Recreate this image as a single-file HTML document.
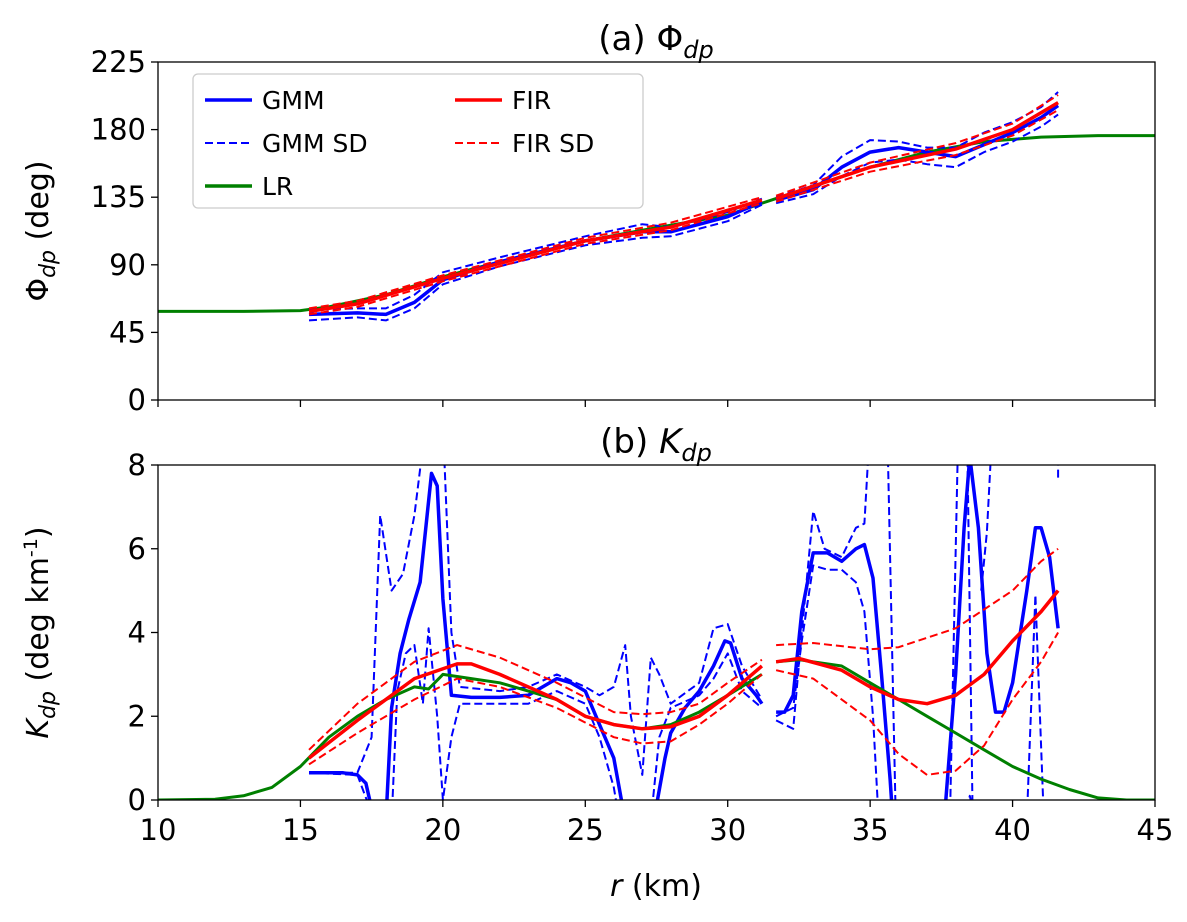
<!DOCTYPE html>
<html><head><meta charset="utf-8">
<style>
body{margin:0;background:#fff;}
svg text{font-family:"DejaVu Sans","Liberation Sans",sans-serif;fill:#000;}
</style></head>
<body>
<svg id="chart" width="1187" height="917" xmlns="http://www.w3.org/2000/svg">
<defs>
<clipPath id="clipA"><rect x="158" y="62" width="997" height="338"/></clipPath>
<clipPath id="clipB"><rect x="158" y="465" width="997" height="335"/></clipPath>
</defs>
<g id="gA"></g>
<g id="gB"></g>
</svg>
<script>
const xTicks=[10,15,20,25,30,35,40,45];
const phiTicks=[0,45,90,135,180,225];
const kdpTicks=[0,2,4,6,8];
const phiLR=[[10,59],[13,59],[15,59.5],[16,62],[18,70],[20,82],[22,92],[25,106],[27,113],[30,123],[31.2,131],[32,136],[35,155],[37,165],[39,172],[41,175],[43,176],[45,176]];
const phiGMM=[[15.3,57],[17,58],[18,57],[19,65],[20,80],[22,92],[25,106],[27,112],[28,112],[30,122],[31.2,132],null,[31.7,133],[33,140],[34,155],[35,165],[36,168],[37,165],[38,162],[39,170],[40,178],[41,188],[41.6,196]];
const phiGMMup=[[15.3,60],[17,61],[18,61],[19,70],[20,85],[22,95],[25,109],[27,117],[28,115],[30,125],[31.2,134],null,[31.7,135],[33,143],[34,162],[35,173],[36,172],[37,168],[38,168],[39,178],[40,185],[41,195],[41.6,205]];
const phiGMMlo=[[15.3,53],[17,55],[18,53],[19,61],[20,77],[22,89],[25,103],[27,108],[28,109],[30,119],[31.2,130],null,[31.7,131],[33,137],[34,149],[35,158],[36,160],[37,157],[38,155],[39,165],[40,172],[41,182],[41.6,190]];
const phiFIR=[[15.3,59],[17,64],[20,81],[25,106],[28,115],[31.2,133],null,[31.7,134],[35,155],[38,167],[40,180],[41.6,198]];
const phiFIRup=[[15.3,61],[17,66],[20,83],[25,108],[28,118],[31.2,135],null,[31.7,136],[35,158],[38,171],[40,184],[41.6,203]];
const phiFIRlo=[[15.3,57],[17,62],[20,79],[25,104],[28,113],[31.2,131],null,[31.7,132],[35,152],[38,163],[40,176],[41.6,193]];
const kLR=[[10,0],[12,0.02],[13,0.1],[14,0.3],[15,0.8],[16,1.5],[17,2.0],[18,2.4],[19,2.7],[19.5,2.65],[20,3.0],[21,2.9],[22,2.8],[23,2.6],[24,2.4],[25,2.0],[26,1.8],[27,1.7],[28,1.8],[29,2.1],[30,2.5],[31.2,3.0],null,[31.7,3.3],[32.5,3.35],[33,3.3],[34,3.2],[35,2.8],[36,2.4],[37,2.0],[38,1.6],[39,1.2],[40,0.8],[41,0.5],[42,0.25],[43,0.05],[44,0],[45,0]];
const kFIR=[[15.3,1.0],[17,1.9],[19,2.9],[20.5,3.25],[21,3.25],[22,3.0],[24,2.4],[25,2.0],[26,1.8],[27,1.7],[28,1.75],[29,2.0],[30,2.5],[31.2,3.2],null,[31.7,3.3],[32.5,3.38],[34,3.1],[35,2.7],[36,2.4],[37,2.3],[38,2.5],[39,3.0],[40,3.8],[41,4.5],[41.6,5.0]];
const kFIRup=[[15.3,1.2],[17,2.3],[19,3.3],[20.5,3.7],[22,3.4],[24,2.8],[26,2.1],[27,2.05],[28,2.1],[29,2.3],[30,2.8],[31.2,3.35],null,[31.7,3.7],[33,3.75],[35,3.6],[36,3.65],[38,4.1],[40,5.0],[41,5.7],[41.6,6.0]];
const kFIRlo=[[15.3,0.85],[17,1.6],[19,2.4],[20.5,2.9],[22,2.7],[24,2.2],[26,1.5],[27,1.35],[28,1.4],[29,1.8],[30,2.3],[31.2,3.0],null,[31.7,3.1],[33,2.9],[35,1.9],[36,1.1],[37,0.6],[38,0.7],[39,1.3],[40,2.4],[41,3.3],[41.6,4.0]];
const kGMM=[[15.3,0.65],[16.5,0.65],[17,0.6],[17.3,0.4],[17.6,-0.5],null,[18,-0.5],[18.2,2.2],[18.5,3.5],[18.8,4.3],[19.2,5.2],[19.6,7.8],[19.8,7.5],[20.0,4.8],[20.3,2.5],[21,2.45],[22,2.45],[23,2.5],[24,2.9],[24.5,2.8],[25,2.6],[25.5,1.8],[26,1.0],[26.4,-0.5],null,[27.4,-0.5],[27.8,1.0],[28,1.6],[28.5,2.2],[29,2.6],[29.5,3.2],[29.9,3.8],[30.1,3.75],[30.5,2.9],[31,2.5],[31.2,2.3],null,[31.7,2.1],[32,2.1],[32.3,2.5],[32.6,4.5],[33,5.9],[33.5,5.9],[34,5.7],[34.5,6.0],[34.8,6.1],[35.1,5.3],[35.4,3],[35.7,0.5],[35.8,-0.5],null,[37.6,-0.5],[38,3],[38.3,6.5],[38.5,8.2],[38.8,6.5],[39.1,3.5],[39.4,2.1],[39.7,2.1],[40,2.8],[40.5,5],[40.8,6.5],[41,6.5],[41.3,5.8],[41.6,4.1]];
const kGMMup=[[15.3,0.65],[17.0,0.65],[17.5,1.5],[17.8,6.8],[18.2,5.0],[18.6,5.4],[19.0,6.8],[19.4,9],[20.0,9],[20.3,4],[20.6,2.7],[22,2.6],[23,2.7],[24,3.0],[25,2.7],[25.5,2.5],[26,2.7],[26.4,3.7],[26.6,2.0],[27,0.6],[27.3,3.4],[27.6,3.0],[28,2.3],[29,2.8],[29.5,4.1],[30,4.2],[30.5,3.2],[31.2,2.4],null,[31.7,1.9],[32.3,1.7],[32.6,4],[33,6.9],[33.4,6.0],[34,5.8],[34.5,6.5],[34.8,6.6],[35.0,9],null,[35.6,9],[35.9,-0.5],null,[37.8,-0.5],[38.1,9],null,[38.4,9],[38.6,-0.5],null,[38.9,5],[39.1,6.4],[39.3,9],null,[40.5,-0.5],[40.8,4.9],[41.1,-0.5],null,[41.6,7.7],[41.6,8.2]];
const kGMMlo=[[15.3,0.65],[17.0,0.6],[17.6,-0.5],null,[18.2,-0.5],[18.4,2.6],[18.7,3.5],[19.0,3.7],[19.3,2.3],[19.5,4.1],[19.8,2.0],[20.0,0],[20.3,1.5],[20.6,2.3],[22,2.3],[23,2.3],[24,2.6],[25,2.3],[25.5,1.5],[26,0.3],[26.2,-0.5],null,[27.3,-0.5],[27.6,1.5],[28,2.2],[29,2.5],[29.5,2.9],[30,3.5],[30.5,2.6],[31.2,2.2],null,[31.7,2.0],[32.3,2.2],[32.6,3.8],[33,5.6],[33.5,5.5],[34,5.5],[34.5,5.2],[34.8,4.5],[35.1,2],[35.3,-0.5],null,[38.3,-0.5],[38.5,0.1],[38.7,-0.5]];

const NS="http://www.w3.org/2000/svg";
const X0=158,X1=1155;
function sx(v){return X0+(v-10)/35*(X1-X0);}
function mk(tag,attrs,parent){const e=document.createElementNS(NS,tag);for(const k in attrs)e.setAttribute(k,attrs[k]);parent.appendChild(e);return e;}
function panel(g,top,bot,ymax,yticks,clip,series,title,ylab){
  const sy=v=>bot-(v/ymax)*(bot-top);
  const sg=mk('g',{'clip-path':'url(#'+clip+')'},g);
  series.forEach(s=>{
    let d='',pen=false;
    s.data.forEach(p=>{if(!p){pen=false;return;}d+=(pen?'L':'M')+sx(p[0]).toFixed(1)+' '+sy(p[1]).toFixed(1);pen=true;});
    const path=mk('path',{d:d,fill:'none',stroke:s.c,'stroke-width':s.w,'stroke-dasharray':s.dash||'none','stroke-linejoin':'round'},sg);
    
    
  });
  mk('rect',{x:X0,y:top,width:X1-X0,height:bot-top,fill:'none',stroke:'#000','stroke-width':1.3},g);
  yticks.forEach(t=>{
    mk('line',{x1:X0-7,x2:X0,y1:sy(t),y2:sy(t),stroke:'#000','stroke-width':1.3},g);
    const tx=mk('text',{x:X0-12,y:sy(t)+10,'text-anchor':'end','font-size':29},g);tx.textContent=t;
    
    
  });
  xticks(g,bot);
  const tt=mk('text',{x:656,y:top-12,'text-anchor':'middle','font-size':34},g);tt.innerHTML=title;
  
  
  const yl=mk('text',{transform:'translate(48,'+((top+bot)/2)+') rotate(-90)','text-anchor':'middle','font-size':30},g);yl.innerHTML=ylab;
  
  
}
function xticks(g,bot){xTicks.forEach(t=>mk('line',{x1:sx(t),x2:sx(t),y1:bot,y2:bot+7,stroke:'#000','stroke-width':1.3},g));}
const gA=document.getElementById('gA'),gB=document.getElementById('gB');
panel(gA,62,400,225,phiTicks,'clipA',[
 {data:phiLR,c:'#008000',w:3,name:'lr-line'},
 {data:phiGMMup,c:'#0000ff',w:2,dash:'8 4',name:'gmm-sd-upper'},
 {data:phiGMMlo,c:'#0000ff',w:2,dash:'8 4',name:'gmm-sd-lower'},
 {data:phiGMM,c:'#0000ff',w:3.5,name:'gmm-line'},
 {data:phiFIRup,c:'#ff0000',w:2,dash:'8 4',name:'fir-sd-upper'},
 {data:phiFIRlo,c:'#ff0000',w:2,dash:'8 4',name:'fir-sd-lower'},
 {data:phiFIR,c:'#ff0000',w:3.5,name:'fir-line'}],
 '(a) Φ<tspan font-style="italic" font-size="24" dy="8">dp</tspan>',
 'Φ<tspan font-style="italic" font-size="22" dy="7">dp</tspan><tspan dy="-7"> (deg)</tspan>');
panel(gB,465,800,8,kdpTicks,'clipB',[
 {data:kGMMup,c:'#0000ff',w:2,dash:'8 4',name:'gmm-sd-upper'},
 {data:kGMMlo,c:'#0000ff',w:2,dash:'8 4',name:'gmm-sd-lower'},
 {data:kGMM,c:'#0000ff',w:3.5,name:'gmm-line'},
 {data:kLR,c:'#008000',w:3,name:'lr-line'},
 {data:kFIRup,c:'#ff0000',w:2,dash:'8 4',name:'fir-sd-upper'},
 {data:kFIRlo,c:'#ff0000',w:2,dash:'8 4',name:'fir-sd-lower'},
 {data:kFIR,c:'#ff0000',w:3.5,name:'fir-line'}],
 '(b) <tspan font-style="italic">K</tspan><tspan font-style="italic" font-size="24" dy="8">dp</tspan>',
 '<tspan font-style="italic">K</tspan><tspan font-style="italic" font-size="22" dy="7">dp</tspan><tspan dy="-7">  (deg km</tspan><tspan font-size="19" dy="-11">-1</tspan><tspan dy="11">)</tspan>');
xTicks.forEach(t=>{const tx=mk('text',{x:sx(t),y:840,'text-anchor':'middle','font-size':29},gB);tx.textContent=t;
 
 });
const xl=mk('text',{x:656,y:896,'text-anchor':'middle','font-size':30},gB);
xl.innerHTML='<tspan font-style="italic">r</tspan> (km)';


const lg=mk('g',{},gA);


mk('rect',{x:193,y:74,width:450,height:134,rx:5,fill:'#fff','fill-opacity':0.85,stroke:'#ccc','stroke-width':1.3},lg);
[['GMM','#0000ff',false,205,100],['GMM SD','#0000ff',true,205,143],['LR','#008000',false,205,186],['FIR','#ff0000',false,455,100],['FIR SD','#ff0000',true,455,143]].forEach(e=>{
 const it=mk('g',{},lg);
 
 
 mk('line',{x1:e[3],x2:e[3]+47,y1:e[4],y2:e[4],stroke:e[1],'stroke-width':e[2]?2:3.5,'stroke-dasharray':e[2]?'8 4':'none'},it);
 const t=mk('text',{x:e[3]+57,y:e[4]+9,'font-size':25},it);t.textContent=e[0];
});
</script>
</body></html>
